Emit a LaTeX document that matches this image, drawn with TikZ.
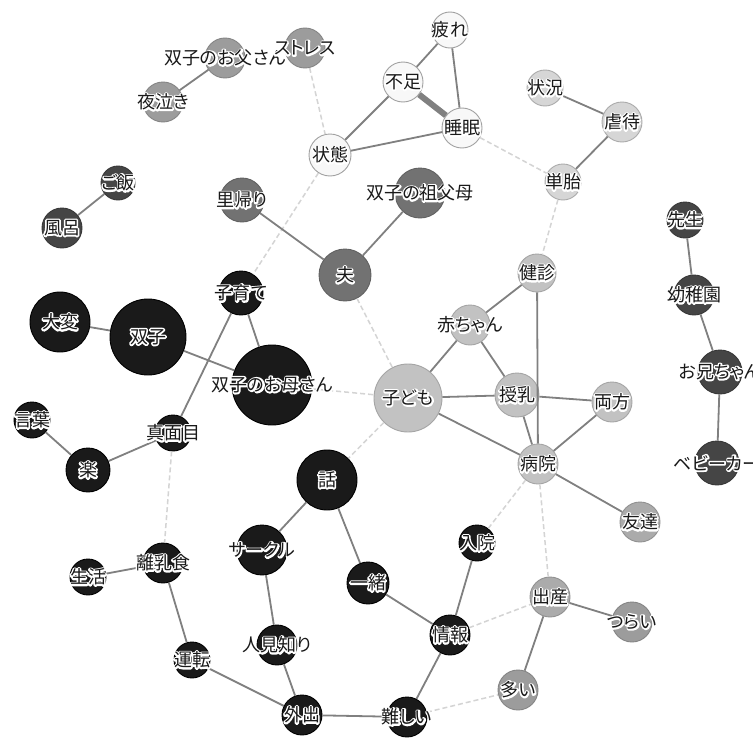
\documentclass[tikz,border=0pt]{standalone}
\usepackage{fontspec}
\setmainfont{Noto Sans CJK JP}[RawFeature=+palt]

% fills of the word circles, from heaviest to lightest
\definecolor{fBlack}{HTML}{1A1A1A}
\definecolor{fDark}{HTML}{454545}
\definecolor{fMid}{HTML}{727272}
\definecolor{fMidLight}{HTML}{9C9C9C}
\definecolor{fLightB}{HTML}{ABABAB}
\definecolor{fLight}{HTML}{C2C2C2}
\definecolor{fPale}{HTML}{D6D6D6}
\definecolor{fWhite}{HTML}{F8F8F8}
\definecolor{tieGray}{HTML}{808080}
\definecolor{weakGray}{HTML}{D4D4D4}

\tikzset{
  vtx/.style={circle, inner sep=0pt, line width=0.9pt},
  kBlack/.style={vtx, fill=fBlack, draw=black},
  kDark/.style={vtx, fill=fDark, draw=fDark!80!black},
  kMid/.style={vtx, fill=fMid, draw=fMid!85!black},
  kMidLight/.style={vtx, fill=fMidLight, draw=fMidLight!85!black},
  kLightB/.style={vtx, fill=fLightB, draw=fLightB!85!black},
  kLight/.style={vtx, fill=fLight, draw=fLight!85!black},
  kPale/.style={vtx, fill=fPale, draw=fPale!80!black},
  kWhite/.style={vtx, fill=fWhite, draw=fWhite!65!black},
  tie/.style={draw=tieGray, line width=1.8pt},
  heavytie/.style={draw=tieGray, line width=6pt},
  weak/.style={draw=weakGray, line width=1.5pt, dash pattern=on 5pt off 3pt},
  word/.style={font=\fontsize{18}{18}\selectfont, inner sep=0pt, text=black!90},
}

% white outline drawn under each word: stroke-only text rendering
\newcommand\outlineon{\special{pdf:literal direct 1 Tr 1 j 3.2 w 1 1 1 RG}}
\newcommand\outlineoff{\special{pdf:literal direct 0 Tr 0 G 1 w}}

% a word set on its circle, black with a white halo
\newcommand\wordat[2]{%
  \node[word, text=white] at (#1.center) {\outlineon#2\outlineoff};%
  \node[word] (l-#1) at (#1.center) {#2};}

\begin{document}
\begin{tikzpicture}[x=1pt, y=-1pt]
\useasboundingbox[fill=white] (0,0) rectangle (753,744);

% ---- circles ----
\node[kWhite, minimum size=36pt] (tsukare) at (450,30) {};
\node[kWhite, minimum size=40pt] (fusoku) at (403,82) {};
\node[kWhite, minimum size=40pt] (suimin) at (462,128) {};
\node[kWhite, minimum size=42pt] (joutai) at (330,155) {};
\node[kPale, minimum size=36pt] (joukyou) at (545,88) {};
\node[kPale, minimum size=40pt] (gyakutai) at (622,122) {};
\node[kPale, minimum size=36pt] (tantai) at (563,182) {};
\node[kMidLight, minimum size=40pt] (stress) at (305,48) {};
\node[kMidLight, minimum size=40pt] (chichi) at (225,58) {};
\node[kMidLight, minimum size=40pt] (yonaki) at (163,102) {};
\node[kDark, minimum size=34pt] (gohan) at (118,183) {};
\node[kDark, minimum size=40pt] (furo) at (62,228) {};
\node[kMid, minimum size=44pt] (satogaeri) at (242,200) {};
\node[kMid, minimum size=50pt] (sofubo) at (420,193) {};
\node[kMid, minimum size=52pt] (otto) at (345,275) {};
\node[kDark, minimum size=36pt] (sensei) at (685,220) {};
\node[kDark, minimum size=40pt] (youchien) at (694,295) {};
\node[kDark, minimum size=44pt] (oniichan) at (720,372) {};
\node[kDark, minimum size=44pt] (babycar) at (717,463) {};
\node[kLight, minimum size=38pt] (kenshin) at (537,273) {};
\node[kLight, minimum size=40pt] (akachan) at (470,325) {};
\node[kLight, minimum size=68pt] (kodomo) at (408,398) {};
\node[kLight, minimum size=44pt] (junyu) at (517,395) {};
\node[kLight, minimum size=40pt] (ryouhou) at (612,402) {};
\node[kLight, minimum size=40pt] (byouin) at (538,464) {};
\node[kLightB, minimum size=40pt] (tomodachi) at (640,522) {};
\node[kBlack, minimum size=36pt] (nyuuin) at (477,543) {};
\node[kLightB, minimum size=40pt] (shussan) at (550,597) {};
\node[kMidLight, minimum size=40pt] (tsurai) at (632,622) {};
\node[kMidLight, minimum size=40pt] (ooi) at (518,690) {};
\node[kBlack, minimum size=40pt] (jouhou) at (450,635) {};
\node[kBlack, minimum size=40pt] (muzukashii) at (407,717) {};
\node[kBlack, minimum size=40pt] (gaishutsu) at (302,715) {};
\node[kBlack, minimum size=42pt] (issho) at (368,583) {};
\node[kBlack, minimum size=60pt] (hanashi) at (327,480) {};
\node[kBlack, minimum size=50pt] (circle) at (262,550) {};
\node[kBlack, minimum size=40pt] (hitomishiri) at (277,645) {};
\node[kBlack, minimum size=36pt] (unten) at (192,660) {};
\node[kBlack, minimum size=40pt] (rinyu) at (163,563) {};
\node[kBlack, minimum size=36pt] (seikatsu) at (88,577) {};
\node[kBlack, minimum size=36pt] (majime) at (173,433) {};
\node[kBlack, minimum size=44pt] (raku) at (88,470) {};
\node[kBlack, minimum size=36pt] (kotoba) at (32,420) {};
\node[kBlack, minimum size=60pt] (taihen) at (60,322) {};
\node[kBlack, minimum size=76pt] (futago) at (148,337) {};
\node[kBlack, minimum size=44pt] (kosodate) at (241,293) {};
\node[kBlack, minimum size=80pt] (haha) at (272,385) {};

% ---- weak co-occurrences ----
\draw[weak] (stress) -- (joutai);
\draw[weak] (joutai) -- (kosodate);
\draw[weak] (otto) -- (kodomo);
\draw[weak] (kodomo) -- (hanashi);
\draw[weak] (haha) -- (kodomo);
\draw[weak] (suimin) -- (tantai);
\draw[weak] (tantai) -- (kenshin);
\draw[weak] (majime) -- (rinyu);
\draw[weak] (byouin) -- (shussan);
\draw[weak] (byouin) -- (nyuuin);
\draw[weak] (jouhou) -- (shussan);
\draw[weak] (muzukashii) -- (ooi);

% ---- strong co-occurrences ----
\draw[tie] (tsukare) -- (fusoku);
\draw[tie] (tsukare) -- (suimin);
\draw[heavytie] (fusoku) -- (suimin);
\draw[tie] (joutai) -- (fusoku);
\draw[tie] (joutai) -- (suimin);
\draw[tie] (joukyou) -- (gyakutai);
\draw[tie] (gyakutai) -- (tantai);
\draw[tie] (chichi) -- (yonaki);
\draw[tie] (gohan) -- (furo);
\draw[tie] (satogaeri) -- (otto);
\draw[tie] (sofubo) -- (otto);
\draw[tie] (sensei) -- (youchien);
\draw[tie] (youchien) -- (oniichan);
\draw[tie] (oniichan) -- (babycar);
\draw[tie] (kenshin) -- (akachan);
\draw[tie] (kenshin) -- (byouin);
\draw[tie] (akachan) -- (kodomo);
\draw[tie] (akachan) -- (junyu);
\draw[tie] (kodomo) -- (junyu);
\draw[tie] (kodomo) -- (byouin);
\draw[tie] (junyu) -- (ryouhou);
\draw[tie] (junyu) -- (byouin);
\draw[tie] (ryouhou) -- (byouin);
\draw[tie] (byouin) -- (tomodachi);
\draw[tie] (taihen) -- (futago);
\draw[tie] (futago) -- (haha);
\draw[tie] (kosodate) -- (haha);
\draw[tie] (kosodate) -- (majime);
\draw[tie] (majime) -- (raku);
\draw[tie] (raku) -- (kotoba);
\draw[tie] (hanashi) -- (circle);
\draw[tie] (hanashi) -- (issho);
\draw[tie] (circle) -- (hitomishiri);
\draw[tie] (hitomishiri) -- (gaishutsu);
\draw[tie] (unten) -- (gaishutsu);
\draw[tie] (rinyu) -- (unten);
\draw[tie] (seikatsu) -- (rinyu);
\draw[tie] (gaishutsu) -- (muzukashii);
\draw[tie] (muzukashii) -- (jouhou);
\draw[tie] (issho) -- (jouhou);
\draw[tie] (nyuuin) -- (jouhou);
\draw[tie] (shussan) -- (ooi);
\draw[tie] (shussan) -- (tsurai);

% ---- words ----
\wordat{tsukare}{疲れ}
\wordat{fusoku}{不足}
\wordat{suimin}{睡眠}
\wordat{joutai}{状態}
\wordat{joukyou}{状況}
\wordat{gyakutai}{虐待}
\wordat{tantai}{単胎}
\wordat{chichi}{双子のお父さん}
\wordat{stress}{ストレス}
\wordat{yonaki}{夜泣き}
\wordat{gohan}{ご飯}
\wordat{furo}{風呂}
\wordat{satogaeri}{里帰り}
\wordat{sofubo}{双子の祖父母}
\wordat{otto}{夫}
\wordat{sensei}{先生}
\wordat{youchien}{幼稚園}
\wordat{oniichan}{お兄ちゃん}
\wordat{babycar}{ベビーカー}
\wordat{kenshin}{健診}
\wordat{akachan}{赤ちゃん}
\wordat{kodomo}{子ども}
\wordat{junyu}{授乳}
\wordat{ryouhou}{両方}
\wordat{byouin}{病院}
\wordat{tomodachi}{友達}
\wordat{nyuuin}{入院}
\wordat{shussan}{出産}
\wordat{tsurai}{つらい}
\wordat{ooi}{多い}
\wordat{jouhou}{情報}
\wordat{muzukashii}{難しい}
\wordat{gaishutsu}{外出}
\wordat{issho}{一緒}
\wordat{hanashi}{話}
\wordat{circle}{サークル}
\wordat{hitomishiri}{人見知り}
\wordat{unten}{運転}
\wordat{rinyu}{離乳食}
\wordat{seikatsu}{生活}
\wordat{majime}{真面目}
\wordat{raku}{楽}
\wordat{kotoba}{言葉}
\wordat{taihen}{大変}
\wordat{futago}{双子}
\wordat{kosodate}{子育て}
\wordat{haha}{双子のお母さん}
\end{tikzpicture}
\end{document}
